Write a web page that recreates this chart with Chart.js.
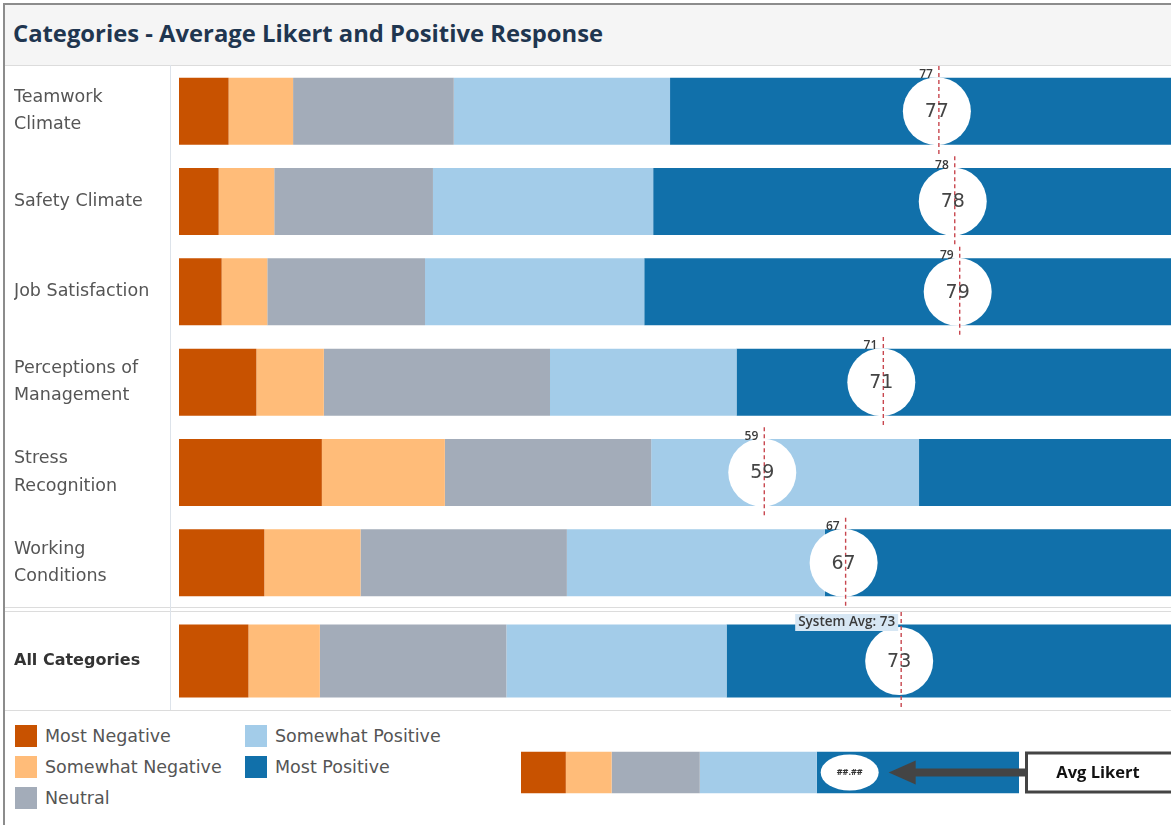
<!DOCTYPE html>
<html>
<head>
<meta charset="utf-8">
<script src="https://cdn.jsdelivr.net/npm/chart.js@4.4.1/dist/chart.umd.min.js"></script>
<style>
  body { margin: 0; background: #fff; font-family: "DejaVu Sans", sans-serif; }
  #page { position: relative; width: 1171px; height: 825px; overflow: hidden; }
  #frame { position: absolute; left: 3px; top: 3px; width: 1200px; height: 830px;
           border-left: 2px solid #8c8c8c; border-top: 2px solid #8c8c8c; }
  #title { position: absolute; left: 5px; top: 5px; width: 1166px; height: 60px; background: #f5f5f5;
           font: 700 23.8px "Open Sans", sans-serif; color: #1f3650; line-height: 56px; padding-left: 8px; box-sizing: border-box; }
  .hline { position: absolute; left: 5px; width: 1166px; height: 1px; background: #dcdcdc; }
  #vline { position: absolute; left: 170px; top: 65px; width: 1px; height: 645px; background: #dde3ea; }
  #main { position: absolute; left: 0; top: 66px; }
  #total { position: absolute; left: 0; top: 612px; }
  #key { position: absolute; left: 500px; top: 740px; }
  #legend { position: absolute; left: 15px; top: 725px; width: 470px; height: 95px; }
  .item { position: absolute; height: 22px; display: flex; align-items: center; white-space: nowrap;
          font: 17.5px "DejaVu Sans", sans-serif; color: #555; }
  .sw { width: 22px; height: 22px; margin-right: 8px; }
</style>
</head>
<body>
<div id="page">
  <div id="frame"></div>
  <div id="title">Categories - Average Likert and Positive Response</div>
  <div class="hline" style="top:65px"></div>
  <div class="hline" style="top:607px"></div>
  <div class="hline" style="top:611px"></div>
  <div class="hline" style="top:710px"></div>
  <div id="vline"></div>
  <div id="main"><canvas id="mainChart" width="1171" height="542"></canvas></div>
  <div id="total"><canvas id="totalChart" width="1171" height="98"></canvas></div>
  <div id="legend"></div>
  <div id="key"><canvas id="keyChart" width="671" height="65"></canvas></div>
</div>
<script>
// categories and per-response shares (percent of responses)
const categories = [
  ['Teamwork', 'Climate'],
  'Safety Climate',
  'Job Satisfaction',
  ['Perceptions of', 'Management'],
  ['Stress', 'Recognition'],
  ['Working', 'Conditions']
];
const totalLabel = 'All Categories';

const seriesNames = ['Most Negative', 'Somewhat Negative', 'Neutral', 'Somewhat Positive', 'Most Positive'];
const seriesColors = ['#c85200', '#ffbc79', '#a3acb9', '#a3cce9', '#1170aa'];

const mostNegative     = [5.0, 4.0, 4.3, 7.8, 14.4, 8.6];
const somewhatNegative = [6.5, 5.6, 4.6, 6.8, 12.4, 9.7];
const neutral          = [16.2, 16.0, 15.9, 22.8, 20.8, 20.8];
const somewhatPositive = [21.8, 22.2, 22.1, 18.8, 27.0, 26.0];
const mostPositive     = [50.5, 52.2, 53.1, 43.8, 25.4, 34.9];
const avgLikert        = [76.6, 78.2, 78.7, 71.0, 59.0, 67.2];

const totalShares = [7.0, 7.2, 18.8, 22.2, 44.8];
const totalAvg = 72.8;

// explanatory key bar at the bottom
const keyShares = [9.0, 9.2, 17.7, 23.5, 40.6];
const keyMarker = 66;

const seriesData = [mostNegative, somewhatNegative, neutral, somewhatPositive, mostPositive];

// legend
const legendEl = document.getElementById('legend');
const legendPos = [[0, 0], [0, 31], [0, 62], [230, 0], [230, 31]];
seriesNames.forEach(function(name, i) {
  const d = document.createElement('div');
  d.className = 'item';
  d.style.left = legendPos[i][0] + 'px';
  d.style.top = legendPos[i][1] + 'px';
  d.innerHTML = '<div class="sw" style="background:' + seriesColors[i] + '"></div>' + name;
  legendEl.appendChild(d);
});

// circles, dashed reference lines and small labels
function avgMarkers(values, smallLabel) {
  return {
    id: 'avgMarkers',
    afterDatasetsDraw: function(chart) {
      const ctx = chart.ctx;
      const x = chart.scales.x, y = chart.scales.y;
      const slot = (y.bottom - y.top) / chart.data.labels.length;
      values.forEach(function(v, i) {
        const px = x.getPixelForValue(v);
        const py = y.getPixelForValue(i);
        const txt = String(Math.round(v));
        ctx.save();
        ctx.fillStyle = '#ffffff';
        ctx.beginPath();
        ctx.arc(px - 2, py, 34, 0, Math.PI * 2);
        ctx.fill();
        ctx.strokeStyle = '#c8474f';
        ctx.lineWidth = 1.4;
        ctx.setLineDash([4, 3]);
        ctx.beginPath();
        ctx.moveTo(px, py - slot / 2);
        ctx.lineTo(px, py + slot / 2);
        ctx.stroke();
        ctx.setLineDash([]);
        ctx.fillStyle = '#444';
        ctx.font = '19px "DejaVu Sans", sans-serif';
        ctx.textAlign = 'center';
        ctx.textBaseline = 'middle';
        ctx.fillText(txt, px - 2, py + 1);
        const lab = smallLabel ? smallLabel + txt : txt;
        ctx.font = smallLabel ? '600 13.5px "Open Sans", sans-serif' : '600 12px "Open Sans", sans-serif';
        ctx.textAlign = 'right';
        ctx.textBaseline = 'top';
        const top = py - slot / 2 + 2;
        if (smallLabel) {
          const w = ctx.measureText(lab).width;
          ctx.fillStyle = '#d7e7f4';
          ctx.fillRect(px - 6 - w - 3, top, w + 6, 17);
        }
        ctx.fillStyle = '#3a3a3a';
        ctx.fillText(lab, px - 6, top + 1);
        ctx.restore();
      });
    }
  };
}

function barConfig(labels, data, avg, smallLabel, bold) {
  return {
    type: 'bar',
    data: {
      labels: labels,
      datasets: seriesNames.map(function(name, i) {
        return {
          label: name,
          data: data[i],
          backgroundColor: seriesColors[i],
          borderWidth: 0,
          categoryPercentage: 1,
          barPercentage: bold ? 0.745 : 0.742
        };
      })
    },
    options: {
      indexAxis: 'y',
      responsive: false,
      animation: false,
      layout: { padding: { left: 14, right: 0, top: 0, bottom: 0 } },
      scales: {
        x: {
          stacked: true, min: 0, max: 100, display: false
        },
        y: {
          stacked: true,
          grid: { display: false },
          border: { display: false },
          afterFit: function(scale) {
            scale.width = 165;
            scale.paddingTop = 0;
            scale.paddingBottom = 0;
          },
          ticks: {
            crossAlign: 'far',
            color: bold ? '#333' : '#555',
            font: { family: '"DejaVu Sans", sans-serif', size: bold ? 16 : 17.5, weight: bold ? 700 : 400, lineHeight: 1.55 }
          }
        }
      },
      plugins: { legend: { display: false }, tooltip: { enabled: false } }
    },
    plugins: [avgMarkers(avg, smallLabel)]
  };
}

new Chart(document.getElementById('mainChart'), barConfig(categories, seriesData, avgLikert, null, false));

new Chart(document.getElementById('totalChart'), barConfig(
  [totalLabel],
  totalShares.map(function(v) { return [v]; }),
  [totalAvg], 'System Avg: ', true));

// key: example bar with marker, arrow and box
new Chart(document.getElementById('keyChart'), {
  type: 'bar',
  data: {
    labels: ['key'],
    datasets: seriesNames.map(function(name, i) {
      return { label: name, data: [keyShares[i]], backgroundColor: seriesColors[i],
               borderWidth: 0, categoryPercentage: 1, barPercentage: 0.64 };
    })
  },
  options: {
    indexAxis: 'y',
    responsive: false,
    animation: false,
    layout: { padding: { left: 21, right: 152, top: 0, bottom: 0 } },
    scales: {
      x: { stacked: true, min: 0, max: 100, display: false },
      y: { stacked: true, display: false }
    },
    plugins: { legend: { display: false }, tooltip: { enabled: false } }
  },
  plugins: [{
    id: 'keyMarks',
    afterDatasetsDraw: function(chart) {
      const ctx = chart.ctx;
      const px = chart.scales.x.getPixelForValue(keyMarker);
      const py = chart.scales.y.getPixelForValue(0);
      const right = chart.scales.x.right;
      ctx.save();
      ctx.fillStyle = '#fff';
      ctx.beginPath();
      ctx.ellipse(px, py, 29, 18, 0, 0, Math.PI * 2);
      ctx.fill();
      ctx.fillStyle = '#333';
      ctx.font = '700 9px "Open Sans", sans-serif';
      ctx.textAlign = 'center';
      ctx.textBaseline = 'middle';
      ctx.fillText('##.##', px, py);
      // arrow
      ctx.fillStyle = '#444';
      ctx.fillRect(px + 62, py - 4, right - px - 56, 8);
      ctx.beginPath();
      ctx.moveTo(px + 39, py);
      ctx.lineTo(px + 66, py - 12);
      ctx.lineTo(px + 66, py + 12);
      ctx.closePath();
      ctx.fill();
      // box
      ctx.fillStyle = '#fff';
      ctx.fillRect(right + 6, py - 20, 150, 40);
      ctx.strokeStyle = '#444';
      ctx.lineWidth = 3;
      ctx.strokeRect(right + 7.5, py - 19.5, 150, 39);
      ctx.fillStyle = '#111';
      ctx.font = '700 16.5px "Open Sans", sans-serif';
      ctx.fillText('Avg Likert', right + 79, py + 1);
      ctx.restore();
    }
  }]
});
</script>
</body>
</html>
